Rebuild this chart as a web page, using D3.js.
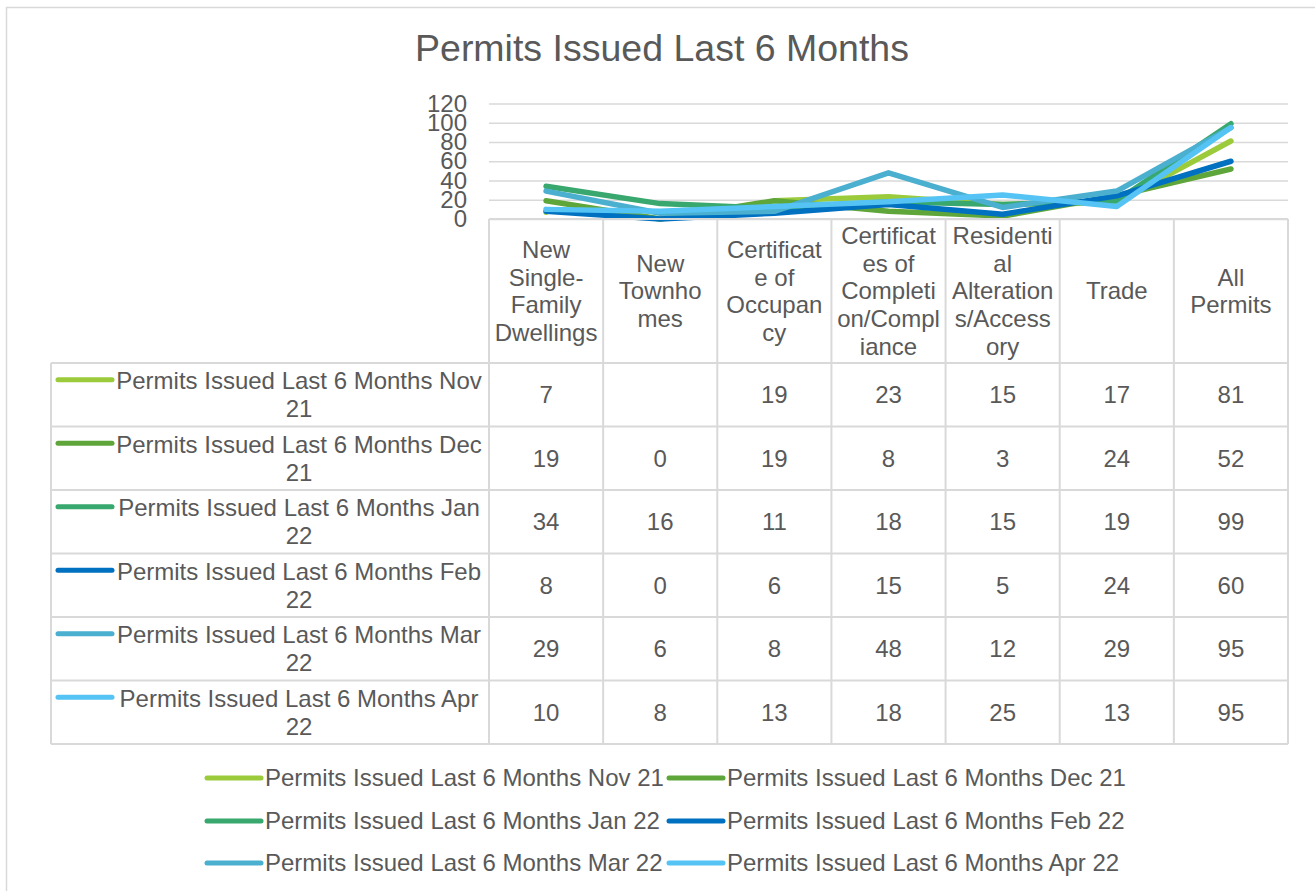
<!DOCTYPE html>
<html>
<head>
<meta charset="utf-8">
<script src="https://cdn.jsdelivr.net/npm/d3@7"></script>
<style>
  html, body { margin: 0; padding: 0; background: #fff; }
  svg { display: block; font-family: "Liberation Sans", Arial, sans-serif; }
</style>
</head>
<body>
<div id="chart"></div>
<script>
// categories (x axis) and the wrapped header lines as shown in the table
const categories = [
  "New Single-Family Dwellings", "New Townhomes", "Certificate of Occupancy",
  "Certificates of Completion/Compliance", "Residential Alterations/Accessory",
  "Trade", "All Permits"
];
const categoryLines = [
  ["New", "Single-", "Family", "Dwellings"],
  ["New", "Townho", "mes"],
  ["Certificat", "e of", "Occupan", "cy"],
  ["Certificat", "es of", "Completi", "on/Compl", "iance"],
  ["Residenti", "al", "Alteration", "s/Access", "ory"],
  ["Trade"],
  ["All", "Permits"]
];

// series names, colours, values
const seriesNames = [
  "Permits Issued Last 6 Months Nov 21",
  "Permits Issued Last 6 Months Dec 21",
  "Permits Issued Last 6 Months Jan 22",
  "Permits Issued Last 6 Months Feb 22",
  "Permits Issued Last 6 Months Mar 22",
  "Permits Issued Last 6 Months Apr 22"
];
const seriesColors = ["#9bcb3b", "#5fa63a", "#38a86e", "#0070c0", "#4bafcf", "#55c3f3"];

const nov21 = [7, null, 19, 23, 15, 17, 81];
const dec21 = [19, 0, 19, 8, 3, 24, 52];
const jan22 = [34, 16, 11, 18, 15, 19, 99];
const feb22 = [8, 0, 6, 15, 5, 24, 60];
const mar22 = [29, 6, 8, 48, 12, 29, 95];
const apr22 = [10, 8, 13, 18, 25, 13, 95];
const seriesValues = [nov21, dec21, jan22, feb22, mar22, apr22];

// row label lines in the data table (wrapped as in the picture)
const rowLabelLines = seriesNames.map(n => {
  const i = n.lastIndexOf(" ");
  return [n.slice(0, i), n.slice(i + 1)];
});

const yTicks = [0, 20, 40, 60, 80, 100, 120];

const TEXT = "#595959";
const LINE = "#d9d9d9";
const FS = 24;

const width = 1315, height = 891;

const svg = d3.select("#chart").append("svg")
  .attr("width", width)
  .attr("height", height);

// outer chart border
svg.append("rect")
  .attr("x", 6.5).attr("y", 7.5)
  .attr("width", 1330).attr("height", 900)
  .attr("fill", "#fff")
  .attr("stroke", LINE)
  .attr("stroke-width", 1.5);

// title
svg.append("text")
  .attr("x", 662)
  .attr("y", 61)
  .attr("text-anchor", "middle")
  .attr("font-size", 37.5)
  .attr("fill", TEXT)
  .text("Permits Issued Last 6 Months");

// scales
const plotLeft = 489, plotRight = 1288;
const x = d3.scaleBand().domain(categories).range([plotLeft, plotRight]);
const y = d3.scaleLinear().domain([0, 120]).range([219, 103.5]);

// gridlines + y labels
const yAxis = svg.append("g")
  .attr("transform", `translate(${plotLeft},0)`)
  .call(d3.axisLeft(y)
    .tickValues(yTicks)
    .tickSizeInner(-(plotRight - plotLeft))
    .tickSizeOuter(0)
    .tickPadding(22));
yAxis.select(".domain").remove();
yAxis.selectAll(".tick line").attr("stroke", LINE).attr("stroke-width", 1.5);
yAxis.selectAll(".tick text")
  .attr("font-size", FS)
  .attr("font-family", "'Liberation Sans', Arial, sans-serif")
  .attr("fill", TEXT);

// lines
const line = d3.line()
  .defined(d => d != null)
  .x((d, i) => x(categories[i]) + x.bandwidth() / 2)
  .y(d => y(d));

svg.append("g")
  .selectAll("path")
  .data(seriesValues)
  .join("path")
  .attr("d", d => line(d))
  .attr("fill", "none")
  .attr("stroke", (d, i) => seriesColors[i])
  .attr("stroke-width", 5.5)
  .attr("stroke-linecap", "round")
  .attr("stroke-linejoin", "round");

// ----- data table -----
const tableLeft = 51;
const headerTop = 219, headerBottom = 363, tableBottom = 744;
const rowY = d3.scaleBand().domain(seriesNames).range([headerBottom, tableBottom]);
const lh = 27.8;

const grid = svg.append("g")
  .attr("stroke", LINE)
  .attr("stroke-width", 2)
  .attr("fill", "none");

// top of header row (category axis line)
grid.append("line")
  .attr("x1", plotLeft).attr("x2", plotRight)
  .attr("y1", headerTop).attr("y2", headerTop);

// column separators through header + body
const colEdges = categories.map(c => x(c)).concat([plotRight]);
grid.selectAll("line.col")
  .data(colEdges)
  .join("line")
  .attr("class", "col")
  .attr("x1", d => d).attr("x2", d => d)
  .attr("y1", headerTop).attr("y2", tableBottom);

// left edge of row label column
grid.append("line")
  .attr("x1", tableLeft).attr("x2", tableLeft)
  .attr("y1", headerBottom).attr("y2", tableBottom);

// horizontal row lines
const rowEdges = seriesNames.map(s => rowY(s)).concat([tableBottom]);
grid.selectAll("line.row")
  .data(rowEdges)
  .join("line")
  .attr("class", "row")
  .attr("x1", tableLeft).attr("x2", plotRight)
  .attr("y1", d => d).attr("y2", d => d);

// header text
const headerMid = (headerTop + headerBottom) / 2;
const headers = svg.append("g")
  .attr("font-size", FS)
  .attr("fill", TEXT)
  .attr("text-anchor", "middle");

categories.forEach((c, i) => {
  const lines = categoryLines[i];
  const cx = x(c) + x.bandwidth() / 2;
  const t = headers.append("text");
  lines.forEach((ln, k) => {
    t.append("tspan")
      .attr("x", cx)
      .attr("y", headerMid + (k - (lines.length - 1) / 2) * lh)
      .attr("dy", "0.35em")
      .text(ln);
  });
});

// row labels + legend keys
const rows = svg.append("g");
seriesNames.forEach((s, i) => {
  const mid = rowY(s) + rowY.bandwidth() / 2;
  const l1 = mid - lh / 2, l2 = mid + lh / 2;
  rows.append("line")
    .attr("x1", 58).attr("x2", 112)
    .attr("y1", l1 - 1).attr("y2", l1 - 1)
    .attr("stroke", seriesColors[i])
    .attr("stroke-width", 5)
    .attr("stroke-linecap", "round");
  const t = rows.append("text")
    .attr("font-size", FS)
    .attr("fill", TEXT)
    .attr("text-anchor", "middle");
  rowLabelLines[i].forEach((ln, k) => {
    t.append("tspan")
      .attr("x", 299)
      .attr("y", k === 0 ? l1 : l2)
      .attr("dy", "0.35em")
      .text(ln);
  });

  // values
  seriesValues[i].forEach((v, j) => {
    if (v == null) return;
    rows.append("text")
      .attr("x", x(categories[j]) + x.bandwidth() / 2)
      .attr("y", mid)
      .attr("dy", "0.35em")
      .attr("font-size", FS)
      .attr("fill", TEXT)
      .attr("text-anchor", "middle")
      .text(v);
  });
});

// ----- bottom legend -----
const legendCols = [205, 667];
const legendRows = [778, 821, 863];
const legend = svg.append("g");
seriesNames.forEach((s, i) => {
  const lx = legendCols[i % 2];
  const ly = legendRows[Math.floor(i / 2)];
  legend.append("line")
    .attr("x1", lx + 2).attr("x2", lx + 56)
    .attr("y1", ly).attr("y2", ly)
    .attr("stroke", seriesColors[i])
    .attr("stroke-width", 5)
    .attr("stroke-linecap", "round");
  legend.append("text")
    .attr("x", lx + 60)
    .attr("y", ly)
    .attr("dy", "0.35em")
    .attr("font-size", FS)
    .attr("fill", TEXT)
    .text(s);
});
</script>
</body>
</html>
